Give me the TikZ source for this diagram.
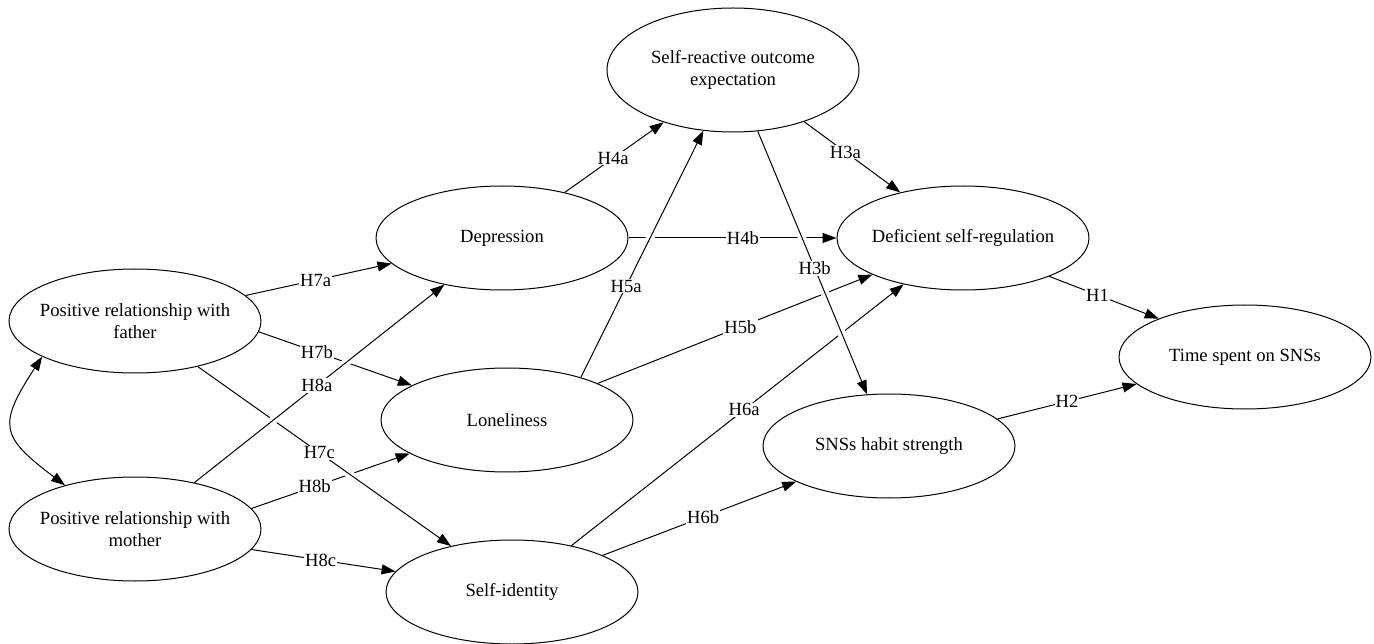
\documentclass[tikz,border=0pt]{standalone}
\usepackage{fontspec}
\setmainfont{Liberation Serif}
\usetikzlibrary{shapes.geometric,arrows.meta}

\begin{document}
\begin{tikzpicture}[x=1pt, y=-1pt, line width=1pt,
    every node/.style = {font=\fontsize{18.6}{22}\selectfont},
    latent/.style = {shape=ellipse, draw, minimum width=252pt,
      minimum height=104pt, inner xsep=-8pt, inner ysep=0pt, align=center},
    link/.style = {-{Triangle[length=14pt,width=10pt]}},
    both/.style = {{Triangle[length=14pt,width=10pt]}-{Triangle[length=14pt,width=10pt]}},
    hyp/.style = {fill=white, inner sep=1pt},
    over/.style = {preaction={draw=white, line width=8pt, -,
      shorten <=14pt, shorten >=14pt}}]
  \useasboundingbox (0,0) rectangle (1374,644);

  \node[latent] (father) at (135,321) {Positive relationship with\\father};
  \node[latent] (mother) at (135,529) {Positive relationship with\\mother};
  \node[latent] (depr) at (502,238) {Depression};
  \node[latent] (lonely) at (507,420) {Loneliness};
  \node[latent] (selfid) at (512,592) {Self-identity};
  \node[latent, minimum height=124pt] (outcome) at (733,70) {Self-reactive outcome\\expectation};
  \node[latent] (dsr) at (963,238) {Deficient self-regulation};
  \node[latent] (habit) at (889,446) {SNSs habit strength};
  \node[latent] (time) at (1245,357) {Time spent on SNSs};

  \draw[link] (depr.0) -- node[hyp, pos=0.55] {H4b} (dsr.180);
  \draw[link] (father.-5) -- node[hyp, pos=0.38] {H7b} (lonely.160);
  \draw[link] (mother.10) -- node[hyp, pos=0.40] {H8b} (lonely.199);
  \draw[link] (lonely.22) -- node[hyp, pos=0.52] {H5b} (dsr.202);
  \draw[link] (selfid.38) -- node[hyp, pos=0.52] {H6a} (dsr.218);
  \draw[link] (father.13) -- node[hyp, pos=0.48] {H7a} (depr.193);
  \draw[link] (mother.-10) -- node[hyp, pos=0.48] {H8c} (selfid.170);
  \draw[link] (depr.36) -- node[hyp, pos=0.49] {H4a} (outcome.217);
  \draw[link] (outcome.-36) -- node[hyp, pos=0.43] {H3a} (dsr.144);
  \draw[link] (selfid.22) -- node[hyp, pos=0.52] {H6b} (habit.201);
  \draw[link] (dsr.-24) -- node[hyp, pos=0.44] {H1} (time.156);
  \draw[link] (habit.14) -- node[hyp, pos=0.5] {H2} (time.194);

  % these cross over the others
  \draw[link, over] (father.-36) -- node[hyp, pos=0.48] {H7c} (selfid.143);
  \draw[link, over] (mother.38) -- node[hyp, pos=0.49] {H8a} (depr.219);
  \draw[link, over] (lonely.30) -- node[hyp, pos=0.37] {H5a} (outcome.244);
  \draw[link, over] (outcome.-68) -- node[hyp, pos=0.52] {H3b} (habit.113);

  \draw[both] (father.201) to[out=237, in=143, looseness=1.6] (mother.148);
\end{tikzpicture}
\end{document}
